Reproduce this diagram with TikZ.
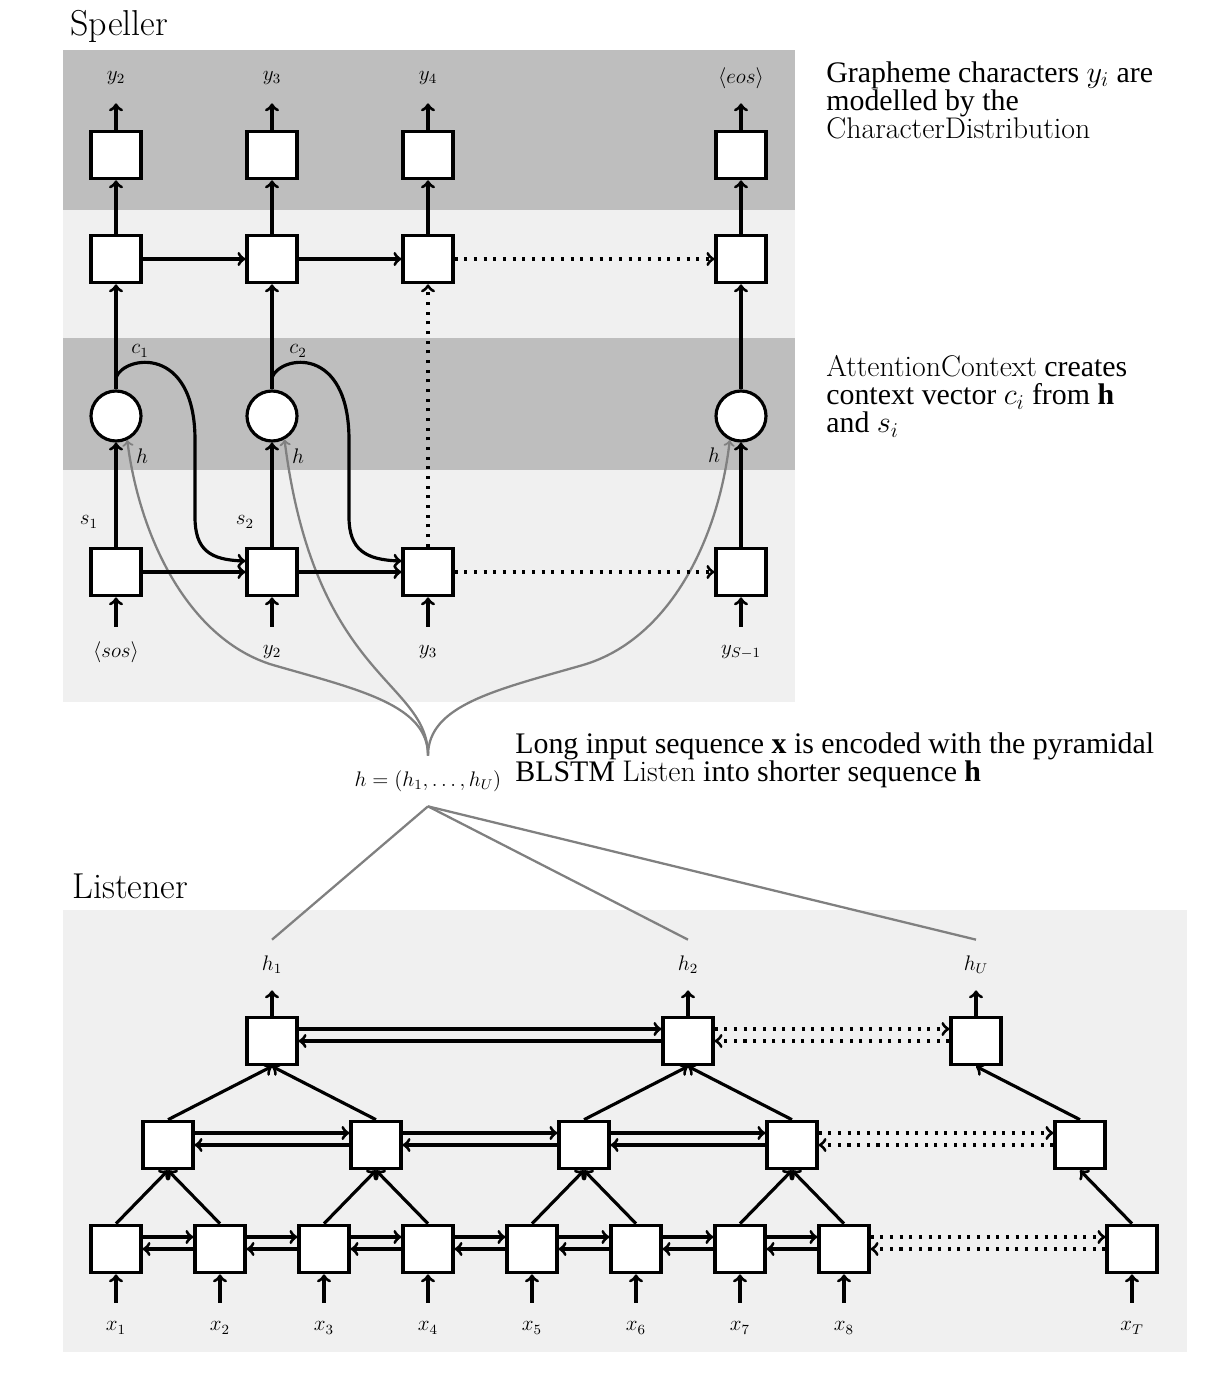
\documentclass[tikz,border=0pt]{standalone}
\usepackage{fontspec}
\newfontfamily\timesfont{Liberation Serif}
\definecolor{darkband}{gray}{0.745}
\definecolor{lightband}{gray}{0.94}
\definecolor{hgray}{gray}{0.5}
\tikzset{
  cell/.style={draw, fill=white, line width=1.8pt, minimum width=1cm, minimum height=0.95cm, inner sep=0pt},
  attn/.style={draw, fill=white, circle, line width=1.8pt, minimum size=1cm, inner sep=0pt},
  sym/.style={font=\fontsize{12}{14}\selectfont, inner sep=0pt},
  lbl/.style={sym, minimum height=1cm},
  wire/.style={->, line width=1.8pt},
  dotwire/.style={wire, dash pattern=on 1.8pt off 3.7pt},
  hwire/.style={->, hgray, line width=1.3pt},
  hline/.style={hgray, line width=1.3pt},
  note/.style={font=\timesfont\fontsize{17}{16}\selectfont, align=left, inner sep=0pt, anchor=north west},
  heading/.style={font=\fontsize{20.5}{24}\selectfont, inner sep=0pt, anchor=base west},
}

\begin{document}
\begin{tikzpicture}[x=0.02cm, y=-0.02cm]
			\useasboundingbox (0,0) rectangle (1220,1378);
			
			%%%%% PANELS %%%%%
			\fill[lightband] (63,50) rectangle (795,702);
			\fill[darkband] (63,50) rectangle (795,210);
			\fill[darkband] (63,338) rectangle (795,470);
			\fill[lightband] (63,910) rectangle (1187,1352);
			
			\node[heading] (spellhead) at (70,36) {Speller};
			\node[heading] (listhead) at (72,898) {Listener};
			
			%%%%% SPELLER %%%%%
			\foreach \i/\x in {1/116, 2/272, 3/428, 4/741} {
				\node[cell] (cd\i) at (\x,155) {};
				\node[cell] (dec\i) at (\x,259) {};
				\node[cell] (st\i) at (\x,572) {};
			}
			\foreach \i/\x in {1/116, 2/272, 4/741}
				\node[attn] (att\i) at (\x,416) {};
			
			\node[lbl] (yo1) at (116,78) {$y_2$};
			\node[lbl] (yo2) at (272,78) {$y_3$};
			\node[lbl] (yo3) at (428,78) {$y_4$};
			\node[lbl] (yo4) at (741,78) {$\langle eos\rangle$};
			\node[lbl] (yi1) at (116,652) {$\langle sos\rangle$};
			\node[lbl] (yi2) at (272,652) {$y_2$};
			\node[lbl] (yi3) at (428,652) {$y_3$};
			\node[lbl] (yi4) at (741,652) {$y_{S-1}$};
			
			\node[sym] (cl1) at (140,351) {$c_1$};
			\node[sym] (cl2) at (298,351) {$c_2$};
			\node[sym] (sl1) at (89,522) {$s_1$};
			\node[sym] (sl2) at (245,522) {$s_2$};
			\node[sym] (hl1) at (142,456) {$h$};
			\node[sym] (hl2) at (298,456) {$h$};
			\node[sym] (hl4) at (714,455) {$h$};
			
			% h feeds the attention
			\node[lbl] (hseq) at (428,781) {$h=(h_1,\ldots,h_U)$};
			\draw[hwire] (hseq.north) .. controls (428,705) and (360,690) .. (273,665) .. controls (190,640) and (140,540) .. (att1.-65);
			\draw[hwire] (hseq.north) .. controls (428,680) and (315,680) .. (att2.-62);
			\draw[hwire] (hseq.north) .. controls (428,705) and (496,690) .. (583,665) .. controls (668,640) and (718,542) .. (att4.-115);
			
			\foreach \i in {1,2,3,4} {
				\draw[wire] (yi\i) -- (st\i);
				\draw[wire] (dec\i) -- (cd\i);
				\draw[wire] (cd\i) -- (yo\i);
			}
			\foreach \i in {1,2,4} {
				\draw[wire] (st\i) -- (att\i);
				\draw[wire] (att\i) -- (dec\i);
			}
			\draw[dotwire] (st3) -- (dec3);
			
			\draw[wire] (dec1) -- (dec2);
			\draw[wire] (dec2) -- (dec3);
			\draw[dotwire] (dec3) -- (dec4);
			\draw[wire] (st1) -- (st2);
			\draw[wire] (st2) -- (st3);
			\draw[dotwire] (st3) -- (st4);
			
			% context vectors
			\draw[wire] ([yshift=0.24cm]att1.north) .. controls (125,355) and (195,345) .. (195,440) -- (195,517) .. controls (195,550) and (210,560) .. ([yshift=0.22cm]st2.west);
			\draw[wire] ([yshift=0.24cm]att2.north) .. controls (281,355) and (349,345) .. (349,440) -- (349,517) .. controls (349,550) and (366,560) .. ([yshift=0.22cm]st3.west);
			
			%%%%% LISTENER %%%%%
			\foreach \i/\x in {1/116, 2/220, 3/324, 4/428, 5/532, 6/636, 7/740, 8/844} {
				\node[cell] (b\i) at (\x,1249) {};
				\node[lbl] (x\i) at (\x,1328) {$x_{\i}$};
				\draw[wire] (x\i) -- (b\i);
			}
			\node[cell] (bT) at (1132,1249) {};
			\node[lbl] (xT) at (1132,1328) {$x_T$};
			\draw[wire] (xT) -- (bT);
			
			\foreach \i/\x in {1/168, 2/376, 3/584, 4/792}
				\node[cell] (m\i) at (\x,1145) {};
			\node[cell] (mL) at (1080,1145) {};
			
			\node[cell] (t1) at (272,1041) {};
			\node[cell] (t2) at (688,1041) {};
			\node[cell] (tU) at (976,1041) {};
			
			\node[lbl] (h1) at (272,965) {$h_1$};
			\node[lbl] (h2) at (688,965) {$h_2$};
			\node[lbl] (hU) at (976,965) {$h_U$};
			\draw[wire] (t1) -- (h1);
			\draw[wire] (t2) -- (h2);
			\draw[wire] (tU) -- (hU);
			
			% both directions
			\foreach \i [count=\j from 2] in {1,...,7} {
				\draw[wire] ([yshift=0.24cm]b\i.east) -- ([yshift=0.24cm]b\j.west);
				\draw[wire] (b\j.west) -- (b\i.east);
			}
			\draw[dotwire] ([yshift=0.24cm]b8.east) -- ([yshift=0.24cm]bT.west);
			\draw[dotwire] (bT.west) -- (b8.east);
			
			\foreach \i [count=\j from 2] in {1,2,3} {
				\draw[wire] ([yshift=0.24cm]m\i.east) -- ([yshift=0.24cm]m\j.west);
				\draw[wire] (m\j.west) -- (m\i.east);
			}
			\draw[dotwire] ([yshift=0.24cm]m4.east) -- ([yshift=0.24cm]mL.west);
			\draw[dotwire] (mL.west) -- (m4.east);
			
			\draw[wire] ([yshift=0.24cm]t1.east) -- ([yshift=0.24cm]t2.west);
			\draw[wire] (t2.west) -- (t1.east);
			\draw[dotwire] ([yshift=0.24cm]t2.east) -- ([yshift=0.24cm]tU.west);
			\draw[dotwire] (tU.west) -- (t2.east);
			
			% pyramid
			\foreach \i/\p in {1/1, 2/1, 3/2, 4/2, 5/3, 6/3, 7/4, 8/4}
				\draw[wire] (b\i.north) -- (m\p.south);
			\draw[wire] (bT.north) -- (mL.south);
			\draw[wire] (m1.north) -- (t1.south);
			\draw[wire] (m2.north) -- (t1.south);
			\draw[wire] (m3.north) -- (t2.south);
			\draw[wire] (m4.north) -- (t2.south);
			\draw[wire] (mL.north) -- (tU.south);
			
			\draw[hline] (hseq.south) -- (h1.north);
			\draw[hline] (hseq.south) -- (h2.north);
			\draw[hline] (hseq.south) -- (hU.north);
			
			%%%%% NOTES %%%%%
			\node[note] (spellnote) at (826,61) {Grapheme characters $y_i$ are\\modelled by the\\\textrm{CharacterDistribution}};
			\node[note] (attnote) at (826,355) {\textrm{AttentionContext} creates\\context vector $c_i$ from \textbf{h}\\and $s_i$};
			\node[note] (listnote) at (515,732) {Long input sequence \textbf{x} is encoded with the pyramidal\\BLSTM \textrm{Listen} into shorter sequence \textbf{h}};
		\end{tikzpicture}
\end{document}
